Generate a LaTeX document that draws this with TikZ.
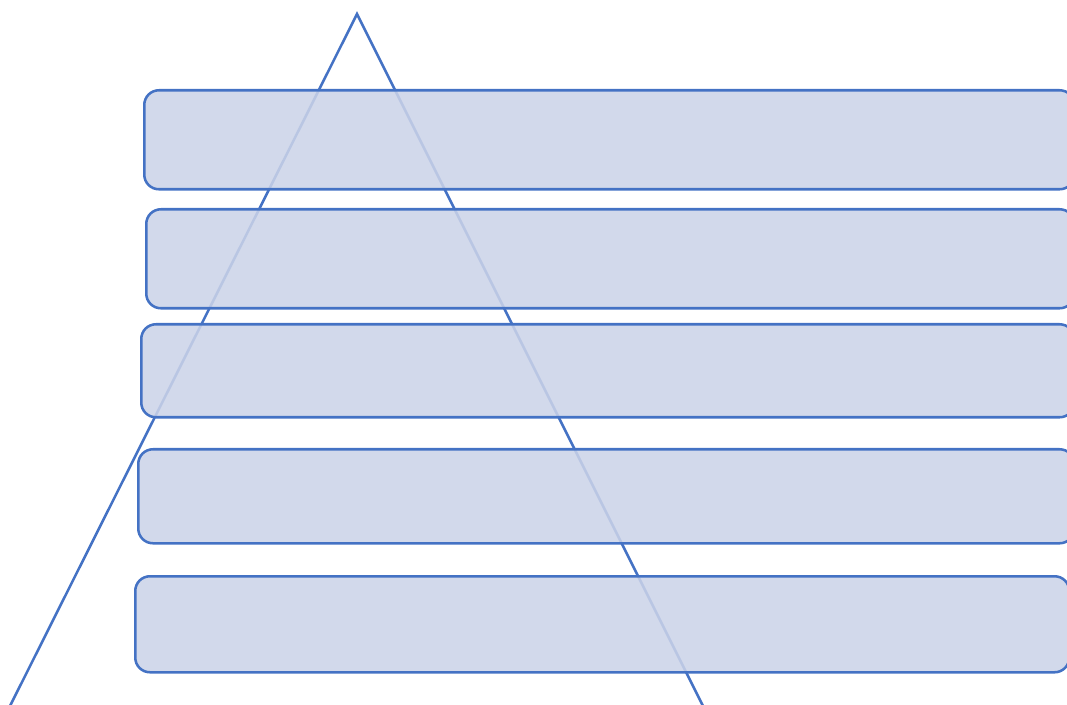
\documentclass[tikz,border=0pt]{standalone}
\usetikzlibrary{positioning}
\definecolor{edge}{RGB}{68,114,196}
\definecolor{boxfill}{RGB}{203,211,232}
\tikzset{
  layerbox/.style={draw=edge, line width=1.9pt, fill=boxfill, fill opacity=0.87,
    rounded corners=11pt, rectangle, inner sep=0pt},
  tri/.style={draw=edge, line width=1.9pt, line join=miter}
}
\begin{document}
\begin{tikzpicture}[x=0.75pt,y=-0.75pt]
\useasboundingbox (0,0) rectangle (1067,705);
\clip (0,0) rectangle (1067,705);
\coordinate (apex) at (357,14);
\coordinate (bl) at (7,712);
\coordinate (br) at (706,712);
\draw[tri] (bl) -- (apex) -- (br);
\node[layerbox, minimum width=930*0.75pt, minimum height=99*0.75pt, anchor=north west] (b1) at (143,89) {};
\node[layerbox, minimum width=928*0.75pt, minimum height=99*0.75pt, anchor=north west] (b2) at (145,208) {};
\node[layerbox, minimum width=933*0.75pt, minimum height=93*0.75pt, anchor=north west] (b3) at (140,323) {};
\node[layerbox, minimum width=936*0.75pt, minimum height=94*0.75pt, anchor=north west] (b4) at (137,448) {};
\node[layerbox, minimum width=934*0.75pt, minimum height=96*0.75pt, anchor=north west] (b5) at (134,575) {};
\end{tikzpicture}
\end{document}
